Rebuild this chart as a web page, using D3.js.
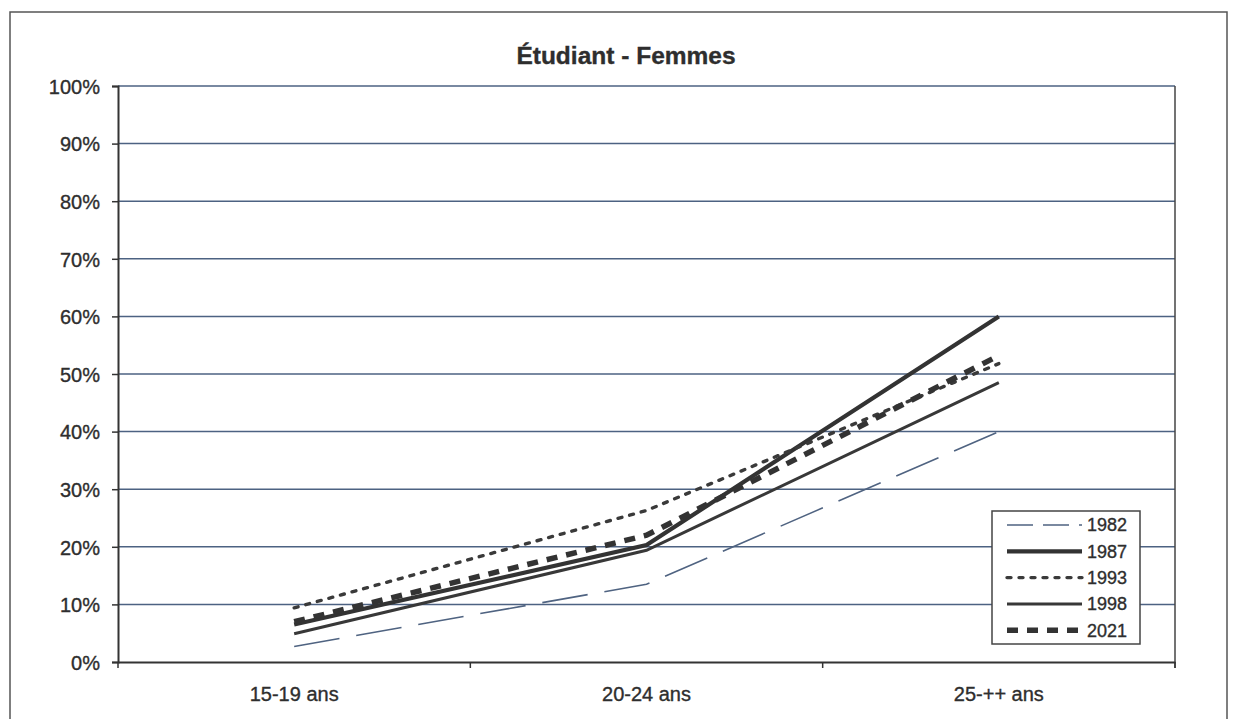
<!DOCTYPE html>
<html>
<head>
<meta charset="utf-8">
<script src="https://cdn.jsdelivr.net/npm/d3@7/dist/d3.min.js"></script>
<style>
  html, body { margin: 0; padding: 0; background: #fff; }
  svg { display: block; font-family: "Liberation Sans", Arial, sans-serif; }
  svg text { stroke: #2e2e2e; stroke-width: 0.35px; }
</style>
</head>
<body>
<svg id="chart" width="1235" height="719"></svg>
<script>
// Données (part en %)
const categories = ["15-19 ans", "20-24 ans", "25-++ ans"];
const years = ["1982", "1987", "1993", "1998", "2021"];
const values1982 = [2.7, 13.5, 40.0];
const values1987 = [6.5, 20.3, 60.0];
const values1993 = [9.4, 26.3, 51.8];
const values1998 = [4.9, 19.4, 48.5];
const values2021 = [7.0, 22.0, 53.2];
const yTicks = [0, 10, 20, 30, 40, 50, 60, 70, 80, 90, 100];

const seriesValues = [values1982, values1987, values1993, values1998, values2021];

// styles par série
const styles = {
  "1982": { stroke: "#4f6381", width: 1.6, dash: "46 17" },
  "1987": { stroke: "#333333", width: 4.2, dash: null },
  "1993": { stroke: "#3a3a3a", width: 3.4, dash: "4 8" },
  "1998": { stroke: "#383838", width: 3, dash: null },
  "2021": { stroke: "#333333", width: 5.5, dash: "11 9" }
};

const svg = d3.select("#chart");
const textColor = "#2e2e2e";

// cadre extérieur
svg.append("rect")
  .attr("x", 10).attr("y", 12)
  .attr("width", 1217).attr("height", 720)
  .attr("fill", "none")
  .attr("stroke", "#555")
  .attr("stroke-width", 1.5);

const plot = { left: 118, right: 1175, top: 86, bottom: 662 };

const xScale = d3.scaleBand()
  .domain(categories)
  .range([plot.left, plot.right])
  .padding(0);

const yScale = d3.scaleLinear()
  .domain([0, 100])
  .range([plot.bottom, plot.top]);

// grille
svg.append("g")
  .selectAll("line")
  .data(yTicks.filter(d => d > 0))
  .enter()
  .append("line")
    .attr("x1", plot.left)
    .attr("x2", plot.right)
    .attr("y1", d => yScale(d))
    .attr("y2", d => yScale(d))
    .attr("stroke", "#4d6282")
    .attr("stroke-width", 1.5);

// bord droit de la zone de tracé
svg.append("line")
  .attr("x1", plot.right).attr("x2", plot.right)
  .attr("y1", plot.top).attr("y2", plot.bottom + 6)
  .attr("stroke", "#444")
  .attr("stroke-width", 1.5);

// axe Y
const yAxis = svg.append("g")
  .attr("transform", `translate(${plot.left},0)`)
  .call(d3.axisLeft(yScale).tickValues(yTicks).tickSize(6).tickPadding(12).tickFormat(d => d + "%"));
yAxis.select(".domain").attr("stroke", "#333").attr("stroke-width", 2);
yAxis.selectAll(".tick line").attr("stroke", "#333").attr("stroke-width", 1.5);
yAxis.selectAll("text")
  .attr("fill", textColor)
  .attr("font-size", "20px")
  .attr("dy", "0.36em");

// axe X (ticks entre les catégories)
const xAxis = svg.append("g")
  .attr("transform", `translate(0,${plot.bottom})`)
  .call(d3.axisBottom(xScale).tickSize(0).tickPadding(25));
xAxis.select(".domain").attr("stroke", "#333").attr("stroke-width", 2);
xAxis.selectAll("text")
  .attr("fill", textColor)
  .attr("font-size", "20px");

const boundaries = categories.map(c => xScale(c)).concat([plot.right]);
xAxis.selectAll(".sep")
  .data(boundaries)
  .enter()
  .append("line")
    .attr("class", "sep")
    .attr("x1", d => d).attr("x2", d => d)
    .attr("y1", 0).attr("y2", 6)
    .attr("stroke", "#333")
    .attr("stroke-width", 1.5);

// titre
svg.append("text")
  .attr("x", 626)
  .attr("y", 64)
  .attr("text-anchor", "middle")
  .attr("fill", textColor)
  .attr("font-size", "24.5px")
  .attr("font-weight", "700")
  .text("Étudiant - Femmes");

// lignes
const line = d3.line()
  .x((d, i) => xScale(categories[i]) + xScale.bandwidth() / 2)
  .y(d => yScale(d));

const drawOrder = [0, 3, 1, 2, 4];
drawOrder.forEach(k => {
  const st = styles[years[k]];
  svg.append("path")
    .datum(seriesValues[k])
    .attr("d", line)
    .attr("fill", "none")
    .attr("stroke", st.stroke)
    .attr("stroke-width", st.width)
    .attr("stroke-dasharray", st.dash)
    .attr("stroke-linecap", years[k] === "1993" ? "round" : "butt");
});

// légende
const legendBox = { x: 992, y: 511, w: 148, h: 133 };
const legend = svg.append("g").attr("class", "legend");
legend.append("rect")
  .attr("x", legendBox.x).attr("y", legendBox.y)
  .attr("width", legendBox.w).attr("height", legendBox.h)
  .attr("fill", "#fff")
  .attr("stroke", "#444")
  .attr("stroke-width", 1.5);

const lg = legend.selectAll("g.item")
  .data(years)
  .enter()
  .append("g")
    .attr("class", "item")
    .attr("transform", (d, i) => `translate(0, ${525 + i * 26.3})`);

lg.append("line")
  .attr("x1", 1007).attr("x2", 1082)
  .attr("y1", 0).attr("y2", 0)
  .attr("stroke", d => styles[d].stroke)
  .attr("stroke-width", d => styles[d].width)
  .attr("stroke-dasharray", d => d === "1982" ? "26 10" : styles[d].dash)
  .attr("stroke-linecap", d => d === "1993" ? "round" : "butt");

lg.append("text")
  .attr("x", 1087)
  .attr("y", 0)
  .attr("dy", "0.36em")
  .attr("fill", textColor)
  .attr("font-size", "18px")
  .text(d => d);
</script>
</body>
</html>
